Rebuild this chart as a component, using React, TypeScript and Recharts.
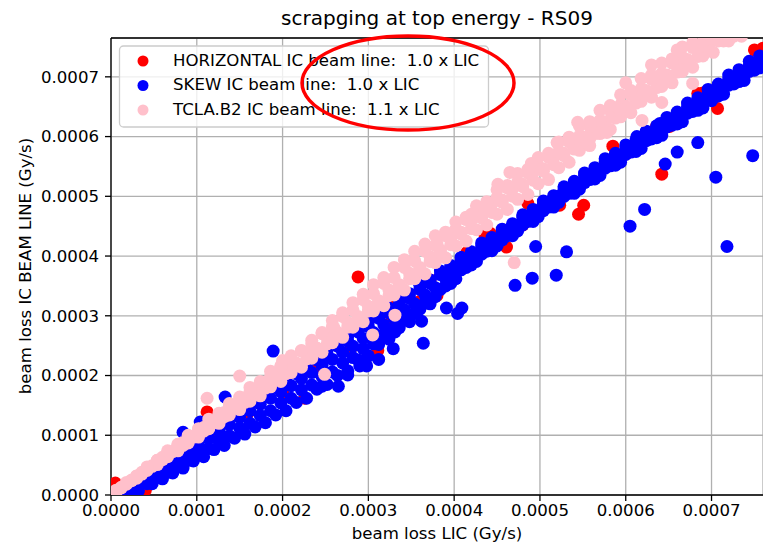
import React from 'react';
import { ScatterChart, Scatter, XAxis, YAxis, CartesianGrid, ReferenceLine } from 'recharts';

// values are given in micro-Gy/s (1e-6 Gy/s) and converted below
const UNIT = 1e-6;
const X_MAX = 0.00076;
const Y_MAX = 0.000765;
const X_TICKS = [0, 0.0001, 0.0002, 0.0003, 0.0004, 0.0005, 0.0006, 0.0007];
const Y_TICKS = [0, 0.0001, 0.0002, 0.0003, 0.0004, 0.0005, 0.0006, 0.0007];

const TITLE = 'scrapging at top energy - RS09';
const X_LABEL = 'beam loss LIC (Gy/s)';
const Y_LABEL = 'beam loss IC BEAM LINE (Gy/s)';
const SERIES_NAMES = [
  'HORIZONTAL IC beam line:  1.0 x LIC',
  'SKEW IC beam line:  1.0 x LIC',
  'TCLA.B2 IC beam line:  1.1 x LIC',
];
const SERIES_COLORS = ['#ff0000', '#0000ff', '#ffc0cb'];

// HORIZONTAL (red)
const HORIZONTAL_VISIBLE: [number, number][] = [
  [5, 20], [40, 8], [112, 139], [226, 162], [288, 365], [287, 281], [311, 242], [333, 326],
  [372, 360], [380, 334], [415, 406], [442, 438], [436, 435], [461, 415], [486, 488], [523, 485],
  [545, 470], [551, 485], [585, 584], [585, 560], [624, 595], [636, 617], [651, 617], [642, 537],
  [684, 672], [690, 673], [707, 647], [737, 697], [750, 745], [760, 748],
];
const HORIZONTAL_BAND: [number, number][] = [
  [50, 40], [80, 68], [120, 104], [160, 138], [200, 172], [240, 209], [280, 246], [320, 285],
  [360, 324], [400, 367], [440, 410], [480, 452], [520, 492], [560, 532], [600, 571], [640, 611],
  [680, 650], [720, 690],
];

// SKEW (blue)
const SKEW_LOW: [number, number][] = [
  [22, 2], [32, 7], [48, 19], [60, 27], [72, 37], [84, 45], [96, 57], [108, 64], [120, 76], [132, 83],
  [144, 95], [156, 102], [168, 114], [180, 121], [192, 134], [204, 141], [216, 155], [228, 162],
  [240, 177], [252, 185], [264, 200], [276, 208], [288, 226], [300, 233], [312, 252], [324, 261],
  [336, 280], [348, 290], [360, 311], [372, 320], [384, 344], [396, 354], [408, 377], [420, 385],
  [432, 403], [444, 409], [456, 427], [468, 434], [480, 452], [492, 458], [504, 476], [516, 482],
  [528, 500], [540, 505], [552, 523], [564, 529], [576, 547], [588, 552], [600, 570], [612, 575],
  [624, 593], [636, 598], [648, 616], [660, 621], [672, 639], [684, 644], [696, 662], [708, 668],
  [720, 686], [732, 692], [744, 709], [756, 715], [768, 733],
];
const SKEW_LOW_MID: [number, number][] = [
  [30, 10], [42, 19], [54, 30], [66, 38], [78, 50], [90, 58], [102, 70], [114, 78], [126, 91], [138, 99],
  [150, 112], [162, 120], [174, 133], [186, 141], [198, 154], [210, 162], [222, 176], [234, 184],
  [246, 198], [258, 206], [270, 221], [282, 230], [294, 245], [306, 253], [318, 269], [330, 279],
  [342, 295], [354, 304], [366, 321], [378, 332], [390, 350], [402, 362], [414, 381], [426, 391],
  [438, 408], [450, 417], [462, 434], [474, 442], [486, 458], [498, 466], [510, 482], [522, 490],
  [534, 505], [546, 512], [558, 528], [570, 535], [582, 551], [594, 557], [606, 574], [618, 580],
  [630, 596], [642, 602], [654, 619], [666, 625], [678, 642], [690, 648], [702, 665], [714, 671],
  [726, 688], [738, 694], [750, 711], [762, 718],
];
const SKEW_MID: [number, number][] = [
  [18, 6], [30, 18], [42, 28], [54, 40], [66, 50], [78, 62], [90, 72], [102, 84], [114, 95], [126, 107],
  [138, 118], [150, 130], [162, 141], [174, 152], [186, 162], [198, 173], [210, 183], [222, 195],
  [234, 205], [246, 217], [258, 227], [270, 239], [282, 249], [294, 262], [306, 272], [318, 285],
  [330, 296], [342, 310], [354, 320], [366, 335], [378, 347], [390, 362], [402, 375], [414, 389],
  [426, 401], [438, 416], [450, 427], [462, 442], [474, 452], [486, 466], [498, 476], [510, 490],
  [522, 500], [534, 513], [546, 522], [558, 536], [570, 545], [582, 559], [594, 568], [606, 582],
  [618, 591], [630, 605], [642, 614], [654, 628], [666, 637], [678, 651], [690, 660], [702, 674],
  [714, 683], [726, 697], [738, 706], [750, 720], [762, 729],
];
const SKEW_MID_UP: [number, number][] = [
  [12, 4], [24, 17], [36, 27], [48, 40], [60, 50], [72, 64], [84, 73], [96, 87], [108, 97], [120, 111],
  [132, 120], [144, 134], [156, 143], [168, 157], [180, 166], [192, 180], [204, 189], [216, 203],
  [228, 212], [240, 226], [252, 235], [264, 249], [276, 258], [288, 273], [300, 282], [312, 296],
  [324, 305], [336, 320], [348, 329], [360, 344], [372, 354], [384, 369], [396, 378], [408, 393],
  [420, 403], [432, 417], [444, 427], [456, 441], [468, 450], [480, 465], [492, 474], [504, 488],
  [516, 497], [528, 511], [540, 520], [552, 535], [564, 543], [576, 558], [588, 566], [600, 581],
  [612, 589], [624, 604], [636, 612], [648, 627], [660, 635], [672, 650], [684, 658], [696, 673],
  [708, 681], [720, 696], [732, 704], [744, 719], [756, 727], [768, 742],
];
const SKEW_UP: [number, number][] = [
  [12, 9], [24, 22], [36, 33], [48, 46], [60, 57], [72, 70], [84, 80], [96, 93], [108, 103], [120, 117],
  [132, 127], [144, 140], [156, 150], [168, 164], [180, 173], [192, 187], [204, 196], [216, 210],
  [228, 219], [240, 234], [252, 243], [264, 257], [276, 266], [288, 281], [300, 290], [312, 304],
  [324, 313], [336, 328], [348, 337], [360, 351], [372, 360], [384, 375], [396, 384], [408, 398],
  [420, 407], [432, 422], [444, 431], [456, 445], [468, 454], [480, 469], [492, 478], [504, 492],
  [516, 501], [528, 516], [540, 525], [552, 539], [564, 548], [576, 563], [588, 572], [600, 586],
  [612, 594], [624, 609], [636, 618], [648, 632], [660, 641], [672, 656], [684, 665], [696, 679],
  [708, 688], [720, 703], [732, 712], [744, 726], [756, 735], [768, 750],
];
const SKEW_OUT: [number, number][] = [
  [189, 241], [133, 164], [84, 105], [104, 122], [246, 182], [265, 182], [276, 201], [290, 216],
  [298, 216], [312, 227], [329, 245], [331, 273], [364, 254], [362, 291], [391, 313], [404, 304],
  [409, 313], [471, 351], [491, 363], [519, 368], [495, 416], [531, 407], [605, 450], [622, 478],
  [718, 416], [646, 554], [660, 574], [684, 590], [705, 532], [748, 568], [613, 600], [640, 622],
  [700, 660],
];

// TCLA.B2 (pink)
const TCLA_UP: [number, number][] = [
  [6, 8], [18, 21], [30, 32], [42, 47], [54, 58], [66, 74], [78, 85], [90, 100], [102, 111], [114, 127],
  [126, 137], [138, 153], [150, 164], [162, 180], [174, 190], [186, 207], [198, 216], [210, 233],
  [222, 242], [234, 259], [246, 272], [258, 292], [270, 305], [282, 322], [294, 336], [306, 352],
  [318, 364], [330, 381], [342, 394], [354, 408], [366, 420], [378, 434], [390, 440], [402, 457],
  [414, 465], [426, 484], [438, 491], [450, 511], [462, 518], [474, 538], [486, 545], [498, 565],
  [510, 572], [522, 591], [534, 599], [546, 618], [558, 625], [570, 644], [582, 652], [594, 670],
  [606, 677], [618, 697], [630, 703], [642, 723], [654, 730], [666, 750], [678, 757], [690, 775],
];
const TCLA_MID_UP: [number, number][] = [
  [6, 6], [18, 19], [30, 32], [42, 44], [54, 58], [66, 70], [78, 84], [90, 95], [102, 110], [114, 121],
  [126, 136], [138, 147], [150, 161], [162, 172], [174, 187], [186, 198], [198, 214], [210, 225],
  [222, 241], [234, 253], [246, 270], [258, 282], [270, 299], [282, 310], [294, 327], [306, 337],
  [318, 354], [330, 364], [342, 381], [354, 392], [366, 408], [378, 418], [390, 434], [402, 445],
  [414, 461], [426, 471], [438, 487], [450, 498], [462, 514], [474, 524], [486, 539], [498, 550],
  [510, 565], [522, 575], [534, 591], [546, 601], [558, 617], [570, 627], [582, 643], [594, 653],
  [606, 670], [618, 680], [630, 696], [642, 706], [654, 723], [666, 733], [678, 749], [690, 759],
  [702, 776],
];
const TCLA_MID: [number, number][] = [
  [0, 1], [12, 13], [24, 24], [36, 38], [48, 48], [60, 63], [72, 73], [84, 88], [96, 98], [108, 113],
  [120, 123], [132, 138], [144, 147], [156, 163], [168, 172], [180, 188], [192, 196], [204, 212],
  [216, 221], [228, 237], [240, 246], [252, 263], [264, 271], [276, 289], [288, 296], [300, 316],
  [312, 324], [324, 343], [336, 351], [348, 371], [360, 378], [372, 399], [384, 406], [396, 428],
  [408, 440], [420, 460], [432, 467], [444, 487], [456, 494], [468, 513], [480, 520], [492, 539],
  [504, 546], [516, 565], [528, 572], [540, 592], [552, 599], [564, 618], [576, 625], [588, 645],
  [600, 651], [612, 670], [624, 677], [636, 696], [648, 703], [660, 722], [672, 729], [684, 749],
  [696, 756], [708, 775],
];
const TCLA_LOW_MID: [number, number][] = [
  [12, 12], [24, 25], [36, 35], [48, 49], [60, 59], [72, 73], [84, 83], [96, 97], [108, 107], [120, 121],
  [132, 131], [144, 146], [156, 155], [168, 170], [180, 179], [192, 194], [204, 203], [216, 219],
  [228, 228], [240, 245], [252, 253], [264, 272], [276, 281], [288, 299], [300, 308], [312, 325],
  [324, 334], [336, 352], [348, 362], [360, 381], [372, 391], [384, 410], [396, 419], [408, 437],
  [420, 446], [432, 464], [444, 473], [456, 490], [468, 500], [480, 516], [492, 527], [504, 542],
  [516, 553], [528, 568], [540, 579], [552, 594], [564, 605], [576, 620], [588, 631], [600, 646],
  [612, 656], [624, 671], [636, 682], [648, 697], [660, 708], [672, 723], [684, 734], [696, 749],
  [708, 760], [720, 774],
];
const TCLA_LOW: [number, number][] = [
  [6, 5], [18, 18], [30, 28], [42, 41], [54, 51], [66, 64], [78, 74], [90, 87], [102, 97], [114, 111],
  [126, 120], [138, 134], [150, 143], [162, 157], [174, 166], [186, 181], [198, 190], [210, 205],
  [222, 214], [234, 229], [246, 239], [258, 255], [270, 264], [282, 281], [294, 290], [306, 308],
  [318, 317], [330, 335], [342, 343], [354, 362], [366, 370], [378, 389], [390, 397], [402, 417],
  [414, 425], [426, 444], [438, 452], [450, 470], [462, 478], [474, 495], [486, 503], [498, 521],
  [510, 528], [522, 548], [534, 557], [546, 577], [558, 585], [570, 605], [582, 612], [594, 633],
  [606, 640], [618, 659], [630, 666], [642, 684], [654, 690], [666, 709], [678, 716], [690, 735],
  [702, 741], [714, 760], [726, 768],
];
const TCLA_OUT: [number, number][] = [
  [112, 162], [150, 199], [249, 202], [305, 268], [331, 301], [470, 389], [619, 627], [642, 657],
  [678, 689], [593, 645], [578, 607], [558, 596], [544, 624], [465, 540], [451, 520], [436, 478],
  [700, 765], [735, 768], [720, 760], [600, 690], [630, 720], [660, 745], [520, 590], [490, 555],
  [420, 470], [380, 420], [260, 280], [200, 225],
];

const toPts = (arr: [number, number][]) => arr.map(([x, y]) => ({ x: x * UNIT, y: y * UNIT }));

const HORIZONTAL = toPts([...HORIZONTAL_BAND, ...HORIZONTAL_VISIBLE]);
const SKEW = toPts([...SKEW_LOW, ...SKEW_LOW_MID, ...SKEW_MID, ...SKEW_MID_UP, ...SKEW_UP, ...SKEW_OUT]);
const TCLA = toPts([...TCLA_LOW, ...TCLA_LOW_MID, ...TCLA_MID, ...TCLA_MID_UP, ...TCLA_UP, ...TCLA_OUT]);

const FONT = 'DejaVu Sans';
const FS = 16.6;

const dot = (color: string) => (props: any) => (
  <circle cx={props.cx} cy={props.cy} r={6.5} fill={color} />
);

const fmt = (v: number) => v.toFixed(4);

export default function App() {
  const tickStyle = { fontSize: FS, fill: '#000', fontFamily: FONT };
  return (
    <div style={{ position: 'absolute', left: 0, top: 0, width: 763, height: 546, fontFamily: FONT, background: '#fff' }}>
      <ScatterChart width={763} height={546} margin={{ top: 38, right: 0, bottom: 0, left: 0 }}>
        <CartesianGrid stroke="#b0b0b0" strokeWidth={1.3} />
        <XAxis
          type="number"
          dataKey="x"
          domain={[0, X_MAX]}
          ticks={X_TICKS}
          interval={0}
          allowDataOverflow
          tickFormatter={fmt}
          height={51}
          tickSize={6}
          tickMargin={3}
          tick={tickStyle}
          axisLine={{ stroke: '#000', strokeWidth: 1.3 }}
          tickLine={{ stroke: '#000', strokeWidth: 1.3 }}
        />
        <YAxis
          type="number"
          dataKey="y"
          domain={[0, Y_MAX]}
          ticks={Y_TICKS}
          interval={0}
          allowDataOverflow
          tickFormatter={fmt}
          width={111}
          tickSize={6}
          tickMargin={6}
          tick={tickStyle}
          axisLine={{ stroke: '#000', strokeWidth: 1.3 }}
          tickLine={{ stroke: '#000', strokeWidth: 1.3 }}
        />
        <Scatter name={SERIES_NAMES[0]} data={HORIZONTAL} fill={SERIES_COLORS[0]} shape={dot(SERIES_COLORS[0])} isAnimationActive={false} />
        <Scatter name={SERIES_NAMES[1]} data={SKEW} fill={SERIES_COLORS[1]} shape={dot(SERIES_COLORS[1])} isAnimationActive={false} />
        <Scatter name={SERIES_NAMES[2]} data={TCLA} fill={SERIES_COLORS[2]} shape={dot(SERIES_COLORS[2])} isAnimationActive={false} />
        <ReferenceLine y={Y_MAX} stroke="#000" strokeWidth={1.3} />
      </ScatterChart>
      <svg width={763} height={546} style={{ position: 'absolute', left: 0, top: 0, pointerEvents: 'none' }}>
        <text x={437} y={25} textAnchor="middle" fontSize={20} fontFamily={FONT} fill="#000">{TITLE}</text>
        <text x={437} y={539} textAnchor="middle" fontSize={FS} fontFamily={FONT} fill="#000">{X_LABEL}</text>
        <text x={30.5} y={266} textAnchor="middle" fontSize={FS} fontFamily={FONT} fill="#000" transform="rotate(-90 30.5 266)">{Y_LABEL}</text>
        <rect x={119.5} y={46} width={369} height={81} rx={4} ry={4} fill="rgba(255,255,255,0.8)" stroke="#cccccc" strokeWidth={1.3} />
        {SERIES_NAMES.map((name, i) => (
          <g key={name}>
            <circle cx={143} cy={61 + i * 24.5} r={5.5} fill={SERIES_COLORS[i]} />
            <text x={173} y={65.5 + i * 24.5} fontSize={FS} fontFamily={FONT} fill="#000" style={{ whiteSpace: 'pre' }}>{name}</text>
          </g>
        ))}
        <ellipse cx={408} cy={83} rx={106} ry={47} fill="none" stroke="#ff0000" strokeWidth={3.5} />
      </svg>
    </div>
  );
}
